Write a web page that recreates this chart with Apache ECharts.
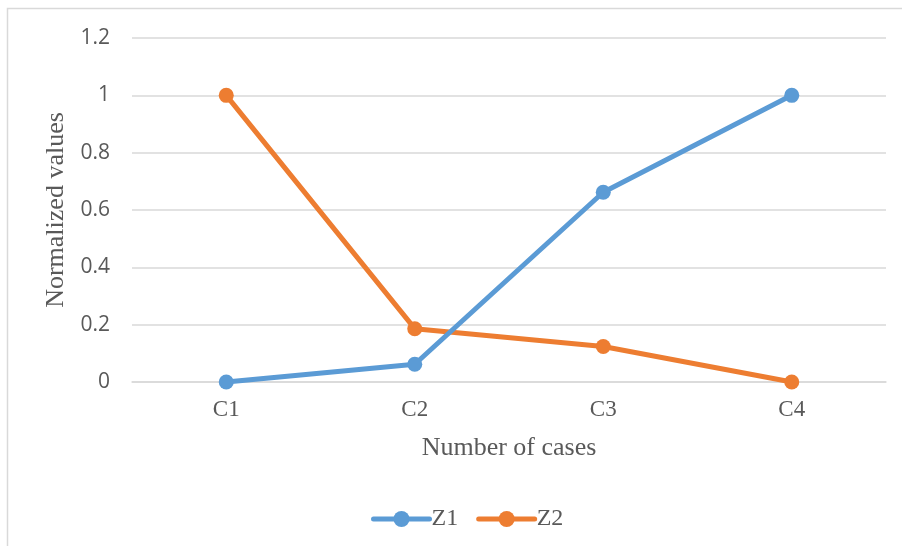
<!DOCTYPE html>
<html>
<head>
<meta charset="utf-8">
<script src="https://cdn.jsdelivr.net/npm/echarts@6/dist/echarts.min.js"></script>
<style>
  html, body { margin: 0; padding: 0; background: #fff; }
  #chart { width: 902px; height: 546px; }
</style>
</head>
<body>
<div id="chart"></div>
<script>
// Case labels and normalized values per series
const cases = ['C1', 'C2', 'C3', 'C4'];
const z1 = [0, 0.062, 0.662, 1];
const z2 = [1, 0.186, 0.124, 0];
const yTicks = [0, 0.2, 0.4, 0.6, 0.8, 1, 1.2];

const serif = '"Liberation Serif", "DejaVu Serif", serif';
const sans = '"Open Sans", "Noto Sans", sans-serif';
const textColor = '#595959';

const chart = echarts.init(document.getElementById('chart'), null, { renderer: 'canvas' });

function lineSeries(name, data, color) {
  return {
    name: name,
    type: 'line',
    data: data,
    symbol: 'circle',
    symbolSize: 15,
    showSymbol: true,
    lineStyle: { width: 5, color: color, cap: 'round' },
    itemStyle: { color: color },
    emphasis: { disabled: true },
    z: name === 'Z1' ? 3 : 2
  };
}

chart.setOption({
  animation: false,
  backgroundColor: '#ffffff',
  graphic: [{
    type: 'rect',
    shape: { x: 7.5, y: 8.5, width: 1000, height: 1000 },
    style: { fill: 'none', stroke: '#d9d9d9', lineWidth: 1.5 },
    silent: true,
    z: -1
  }],
  grid: { left: 132, right: 16, top: 38, bottom: 164 },
  legend: {
    top: 502,
    left: 366,
    itemWidth: 56,
    itemHeight: 20,
    itemGap: 18,
    lineStyle: { width: 5, cap: 'round' },
    textStyle: { fontFamily: serif, fontSize: 24, color: textColor, padding: [0, 0, 0, -3] },
    data: ['Z1', 'Z2']
  },
  xAxis: {
    type: 'category',
    data: cases,
    boundaryGap: true,
    name: 'Number of cases',
    nameLocation: 'middle',
    nameGap: 53,
    nameTextStyle: { fontFamily: serif, fontSize: 26, color: textColor },
    axisLine: { show: true, lineStyle: { color: '#d9d9d9', width: 1.5 } },
    axisTick: { show: false },
    axisLabel: { fontFamily: serif, fontSize: 23, color: textColor, margin: 16 }
  },
  yAxis: {
    type: 'value',
    min: yTicks[0],
    max: yTicks[yTicks.length - 1],
    interval: 0.2,
    name: 'Normalized values',
    nameLocation: 'middle',
    nameGap: 62,
    nameTextStyle: { fontFamily: serif, fontSize: 26, color: textColor },
    axisLine: { show: false },
    axisTick: { show: false },
    splitLine: { lineStyle: { color: '#d9d9d9', width: 1.5 } },
    axisLabel: {
      fontFamily: sans, fontSize: 21, color: textColor, margin: 22,
      formatter: v => String(Math.round(v * 10) / 10)
    }
  },
  series: [
    lineSeries('Z1', z1, '#5b9bd5'),
    lineSeries('Z2', z2, '#ed7d31')
  ]
});
</script>
</body>
</html>
